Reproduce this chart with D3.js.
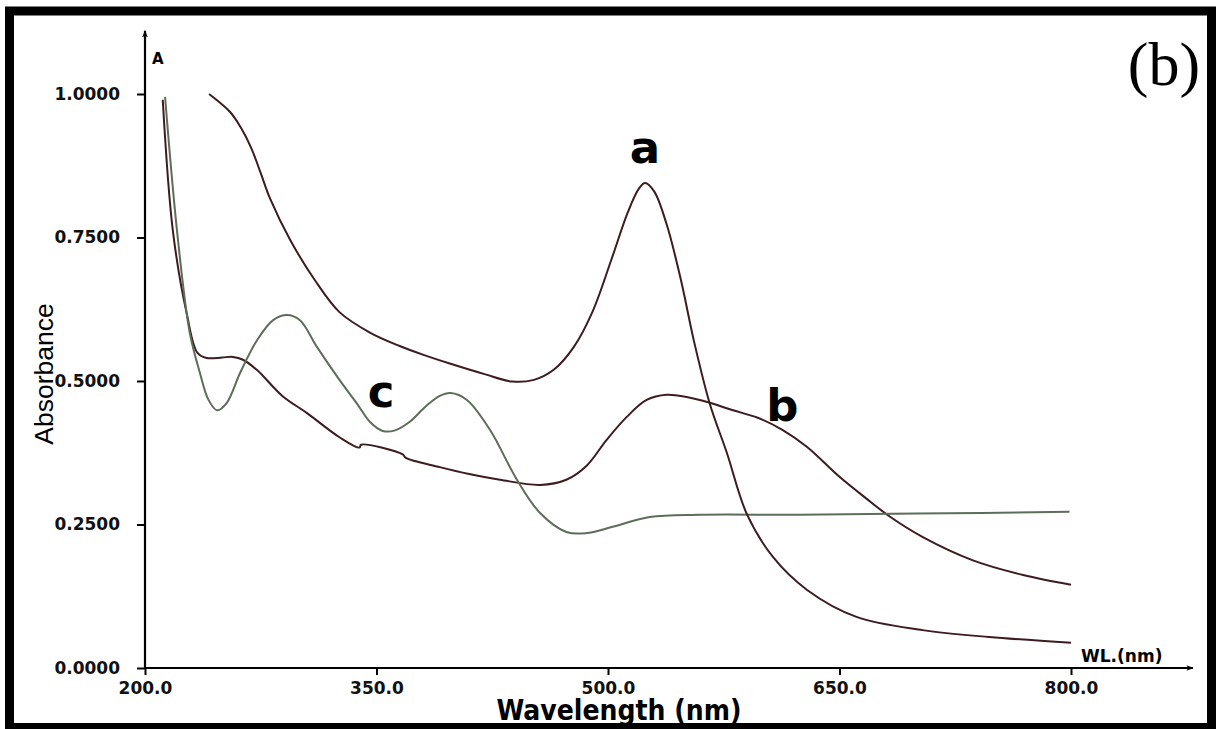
<!DOCTYPE html>
<html>
<head>
<meta charset="utf-8">
<script src="https://cdn.jsdelivr.net/npm/d3@7/dist/d3.min.js"></script>
<style>
  html, body { margin: 0; padding: 0; background: #fff; }
  svg { display: block; }
</style>
</head>
<body>
<svg id="chart" width="1220" height="729"></svg>
<script>
// UV-Vis absorbance spectra, three samples a, b, c
const xTicks = [200, 350, 500, 650, 800];
const yTicks = [0, 0.25, 0.5, 0.75, 1.0];

const wlA = [241.5, 255, 262, 269, 275, 281, 294, 310, 326, 346, 365, 380, 398, 420, 438, 452, 465, 478, 490, 502, 513, 520, 524, 530, 538, 547, 556, 566, 577, 590, 607, 629, 661, 704, 747, 800];
const absA = [1.000, 0.969, 0.942, 0.905, 0.862, 0.818, 0.746, 0.676, 0.620, 0.584, 0.561, 0.546, 0.530, 0.512, 0.499, 0.502, 0.520, 0.560, 0.621, 0.710, 0.795, 0.835, 0.845, 0.830, 0.773, 0.679, 0.566, 0.460, 0.375, 0.268, 0.193, 0.136, 0.089, 0.066, 0.054, 0.044];

const wlB = [211.5, 218, 227, 234, 240, 250, 257, 263.5, 272.6, 289, 305, 326, 339, 340, 367, 369, 391, 410, 430, 456, 473, 486, 499, 512, 525, 538, 551, 566, 581, 597, 613, 629, 650, 667, 683, 704, 736, 769, 800];
const absB = [0.990, 0.763, 0.618, 0.549, 0.540, 0.541, 0.542, 0.537, 0.519, 0.474, 0.444, 0.402, 0.384, 0.389, 0.372, 0.366, 0.350, 0.338, 0.328, 0.319, 0.328, 0.352, 0.397, 0.437, 0.467, 0.476, 0.472, 0.462, 0.449, 0.436, 0.415, 0.385, 0.333, 0.296, 0.263, 0.228, 0.188, 0.162, 0.145];

const wlC = [213, 220.7, 229, 235.6, 241, 246.7, 253, 261.6, 272.6, 283, 292, 300.4, 311.5, 326, 337, 346, 354, 362, 372, 382, 391, 398, 408.6, 423.5, 441, 456, 473, 486, 503, 527, 559.6, 624, 700, 799];
const absC = [0.995, 0.763, 0.584, 0.514, 0.468, 0.449, 0.462, 0.514, 0.571, 0.606, 0.615, 0.606, 0.559, 0.502, 0.462, 0.428, 0.413, 0.414, 0.430, 0.456, 0.474, 0.479, 0.467, 0.415, 0.328, 0.270, 0.237, 0.235, 0.246, 0.263, 0.267, 0.267, 0.269, 0.272];

const seriesLabels = ["a", "b", "c"];
const labelPos = [[524, 0.88], [613, 0.43], [353, 0.455]];

const svg = d3.select("#chart");
const x = d3.scaleLinear().domain([200, 800]).range([145, 1071]);
const y = d3.scaleLinear().domain([0, 1]).range([668, 94]);

const dark = "#3d1c1e";
const green = "#5b6e58";
const tickFont = "'DejaVu Sans', Verdana, sans-serif";

// outer frame
svg.append("rect")
  .attr("x", 9.5).attr("y", 11)
  .attr("width", 1202).attr("height", 716.5)
  .attr("fill", "none").attr("stroke", "#000").attr("stroke-width", 9);

// arrow marker for axes
const defs = svg.append("defs");
defs.append("marker")
  .attr("id", "arrow").attr("viewBox", "0 0 10 10")
  .attr("refX", 9).attr("refY", 5)
  .attr("markerWidth", 10).attr("markerHeight", 7)
  .attr("markerUnits", "userSpaceOnUse")
  .attr("orient", "auto")
  .append("path").attr("d", "M0,1 L10,5 L0,9 L2,5 Z").attr("fill", "#000");

// axis lines extended beyond the data range
svg.append("line")
  .attr("x1", x(200)).attr("y1", y(0))
  .attr("x2", x(200)).attr("y2", y(1.11))
  .attr("stroke", "#000").attr("stroke-width", 2.2)
  .attr("marker-end", "url(#arrow)");
svg.append("line")
  .attr("x1", x(200)).attr("y1", y(0))
  .attr("x2", x(879)).attr("y2", y(0))
  .attr("stroke", "#000").attr("stroke-width", 2.2)
  .attr("marker-end", "url(#arrow)");

const yAxis = svg.append("g")
  .attr("transform", `translate(${x(200)},0)`)
  .call(d3.axisLeft(y).tickValues(yTicks).tickFormat(d3.format(".4f")).tickSize(8).tickPadding(17));
const xAxis = svg.append("g")
  .attr("transform", `translate(0,${y(0)})`)
  .call(d3.axisBottom(x).tickValues(xTicks).tickFormat(d3.format(".1f")).tickSize(7).tickPadding(7));

[yAxis, xAxis].forEach(g => {
  g.select(".domain").remove();
  g.selectAll(".tick line").attr("stroke", "#000").attr("stroke-width", 2);
  g.selectAll(".tick text")
    .attr("fill", "#111")
    .style("font-family", tickFont)
    .style("font-weight", "bold")
    .style("font-size", "17px");
});

// axis captions
svg.append("text").attr("x", 152).attr("y", 64)
  .style("font-family", tickFont).style("font-weight", "bold").style("font-size", "15px")
  .text("A");
svg.append("text").attr("x", 1081).attr("y", 662)
  .style("font-family", tickFont).style("font-weight", "bold").style("font-size", "17px")
  .text("WL.(nm)");
svg.append("text").attr("x", 619).attr("y", 720)
  .attr("text-anchor", "middle")
  .style("font-family", "'DejaVu Sans', Verdana, sans-serif").style("font-weight", "bold")
  .style("font-stretch", "condensed").style("font-size", "28px")
  .text("Wavelength (nm)");
svg.append("text")
  .attr("transform", "translate(53,374) rotate(-90)")
  .attr("text-anchor", "middle")
  .style("font-family", "'Liberation Sans', Arial, sans-serif").style("font-size", "26.5px")
  .text("Absorbance");
svg.append("text").attr("x", 1164).attr("y", 85)
  .attr("text-anchor", "middle")
  .style("font-family", "'Liberation Serif', 'Times New Roman', serif").style("font-size", "62px")
  .text("(b)");

// spectra
const line = d3.line().x(d => x(d[0])).y(d => y(d[1])).curve(d3.curveCatmullRom.alpha(0.5));
const series = [
  { wl: wlB, abs: absB, color: dark },
  { wl: wlC, abs: absC, color: green },
  { wl: wlA, abs: absA, color: dark }
];
series.forEach(s => {
  svg.append("path")
    .datum(d3.zip(s.wl, s.abs))
    .attr("d", line)
    .attr("fill", "none")
    .attr("stroke", s.color)
    .attr("stroke-width", 2)
    .attr("stroke-linejoin", "round");
});

// curve labels
seriesLabels.forEach((t, i) => {
  svg.append("text")
    .attr("x", x(labelPos[i][0])).attr("y", y(labelPos[i][1]))
    .attr("text-anchor", "middle")
    .style("font-family", "'DejaVu Sans', Verdana, sans-serif").style("font-weight", "bold")
    .style("font-size", "45px")
    .text(t);
});
</script>
</body>
</html>
